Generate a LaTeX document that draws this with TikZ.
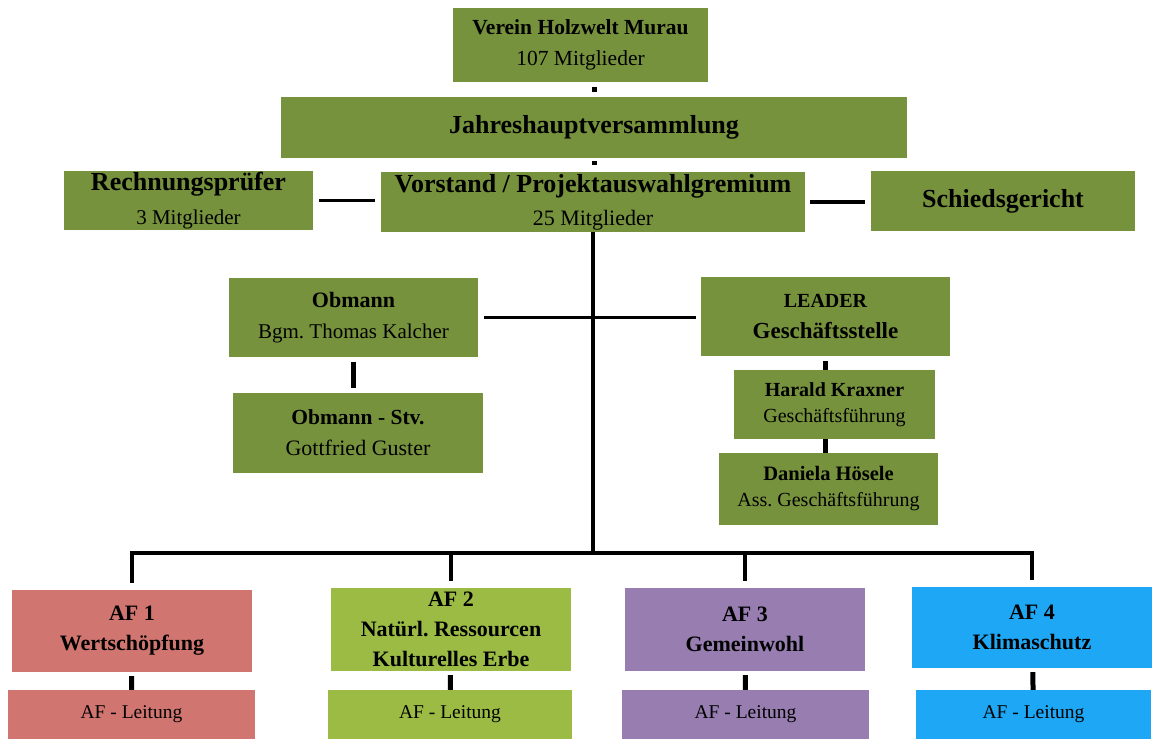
\documentclass[tikz,border=0pt]{standalone}
\usepackage{fontspec}
\setmainfont{Liberation Serif}
\definecolor{boxgreen}{HTML}{77923C}
\definecolor{afred}{HTML}{D07570}
\definecolor{afgreen}{HTML}{9BBB45}
\definecolor{afviolet}{HTML}{977DB0}
\definecolor{afblue}{HTML}{1DA7F5}
\newcommand\fsz[2]{\fontsize{#1}{#2}\selectfont}
\frenchspacing
\begin{document}
\begin{tikzpicture}[x=1pt, y=-1pt,
  box/.style={fill=boxgreen, inner sep=0pt, align=center},
  dims/.style 2 args={minimum width=#1, minimum height=#2},
  link/.style={line width=3.5pt},
  stub/.style={line width=5pt}
]
\useasboundingbox (0,0) rectangle (1154,739);

\node[box, dims={255}{74}, font=\fsz{21.5}{31}] at (580.5,45) (verein) {\textbf{Verein Holzwelt Murau}\\{\fsz{21.5}{31}107 Mitglieder}};
\node[box, dims={626}{61}, font=\fsz{26}{30}\bfseries] at (594,127.5) (jhv) {Jahreshauptversammlung};
\node[box, dims={249}{59}, font=\fsz{26}{34}] at (188.5,200.5) (pruefer) {\textbf{Rechnungsprüfer}\\{\fsz{21}{34}3 Mitglieder}};
\node[box, dims={424}{60}, font=\fsz{26}{33}] at (593,202) (vorstand) {\textbf{Vorstand / Projektauswahlgremium}\\{\fsz{22}{33}25 Mitglieder}};
\node[box, dims={264}{60}, font=\fsz{26}{30}\bfseries] at (1003,201) (schied) {Schiedsgericht};

\node[box, dims={249}{79}, font=\fsz{22}{31}] at (353.5,317.5) (obmann) {\textbf{Obmann}\\{\fsz{21}{31}Bgm. Thomas Kalcher}};
\node[box, dims={249}{79}, font=\fsz{20}{31}\bfseries] at (825.5,316.5) (leader) {LEADER\\{\fsz{23}{31}Geschäftsstelle}};
\node[box, dims={250}{80}, font=\fsz{21.5}{31}] at (358,433) (stv) {\textbf{Obmann - Stv.}\\{\fsz{22}{31}Gottfried Guster}};
\node[box, dims={201}{69}, font=\fsz{20}{26}] at (834.5,404.5) (kraxner) {\textbf{Harald Kraxner}\\Geschäftsführung};
\node[box, dims={219}{72}, font=\fsz{20.5}{26}] at (828.5,489) (hoesele) {\textbf{Daniela Hösele}\\{\fsz{20}{26}Ass. Geschäftsführung}};

\node[box, fill=afred, dims={240}{82}, font=\fsz{22}{30}\bfseries] at (132,631) (af1) {AF 1\\Wertschöpfung};
\node[box, fill=afgreen, dims={240}{83}, font=\fsz{22}{30}\bfseries] at (451,629.5) (af2) {AF 2\\Natürl. Ressourcen\\Kulturelles Erbe};
\node[box, fill=afviolet, dims={240}{83}, font=\fsz{22}{30}\bfseries] at (745,629.5) (af3) {AF 3\\Gemeinwohl};
\node[box, fill=afblue, dims={240}{81}, font=\fsz{22}{30}\bfseries] at (1032,627.5) (af4) {AF 4\\Klimaschutz};

\node[box, fill=afred, dims={247}{49}, font=\fsz{19.5}{26}] at (131.5,714.5) (lt1) {AF - Leitung};
\node[box, fill=afgreen, dims={244}{49}, font=\fsz{19.5}{26}] at (450,714.5) (lt2) {AF - Leitung};
\node[box, fill=afviolet, dims={247}{49}, font=\fsz{19.5}{26}] at (745.5,714.5) (lt3) {AF - Leitung};
\node[box, fill=afblue, dims={235}{49}, font=\fsz{19.5}{26}] at (1033.5,714.5) (lt4) {AF - Leitung};

\coordinate (bus) at (593,553);

\draw[stub, shorten <=5pt, shorten >=5pt] (jhv.north) -- (jhv.north |- verein.south);
\draw[stub, shorten <=3pt, shorten >=7pt] (jhv.south) -- (jhv.south |- vorstand.north);
\draw[link, shorten <=6pt, shorten >=6pt] (pruefer.east) -- (pruefer.east -| vorstand.west);
\draw[link, shorten <=5pt, shorten >=6pt] (vorstand.east) -- (vorstand.east -| schied.west);
\draw[link] (vorstand) -- (bus);
\draw[link, shorten <=6pt, shorten >=5pt] (obmann.east) -- (obmann.east -| leader.west);
\draw[stub, shorten <=5pt, shorten >=5pt] (obmann.south) -- (obmann.south |- stv.north);
\draw[stub, shorten <=5pt] (leader.south) -- (leader.south |- kraxner.north);
\draw[stub] (leader.south |- kraxner.south) -- (leader.south |- hoesele.north);
\foreach \n in {af1,af2,af3,af4}
  \draw[link, shorten <=7pt] (\n.north) |- (bus);
\foreach \i in {1,...,4}
  \draw[stub, shorten <=4pt] (af\i) -- (lt\i);
\end{tikzpicture}
\end{document}
